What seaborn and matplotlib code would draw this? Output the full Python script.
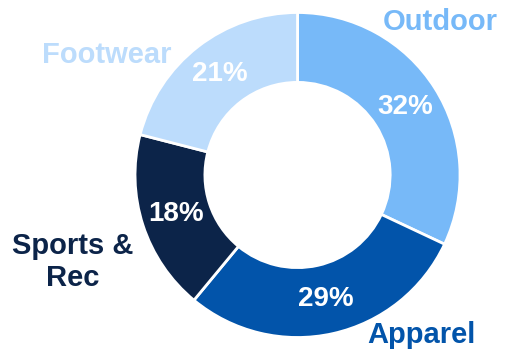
import matplotlib
matplotlib.use("Agg")
import matplotlib.pyplot as plt
import seaborn as sns

# Segment data (clockwise from 12 o'clock)
categories = ["Outdoor", "Apparel", "Sports &\nRec", "Footwear"]
shares = [32, 29, 18, 21]
colors = ["#77B9F8", "#0254AA", "#0C2449", "#BCDCFC"]

# Category label anchor points, in pie-radius units
label_x = [0.877, 0.760, -1.382, -1.174]
label_y = [0.942, -0.985, -0.535, 0.738]

sns.set_theme(style="white")
plt.rcParams["font.family"] = ["Liberation Sans", "DejaVu Sans"]

fig = plt.figure(figsize=(5.13, 3.61), dpi=100)
ax = fig.add_axes([0, 0, 1, 1])

ax.pie(
    shares,
    colors=colors,
    startangle=90,
    counterclock=False,
    radius=1.0,
    autopct="%d%%",
    pctdistance=0.785,
    wedgeprops=dict(width=0.43, edgecolor="white", linewidth=2),
    textprops=dict(color="white", fontsize=20, fontweight="bold"),
)

for name, c, x, y in zip(categories, colors, label_x, label_y):
    ax.text(x, y, name, color=c, fontsize=21, fontweight="bold",
            ha="center", va="center", linespacing=1.22)

ax.set_xlim(-1.831, 1.326)
ax.set_ylim(-1.1446, 1.0769)
ax.set_aspect("equal")
ax.axis("off")

fig.savefig("out.png", dpi=100)
